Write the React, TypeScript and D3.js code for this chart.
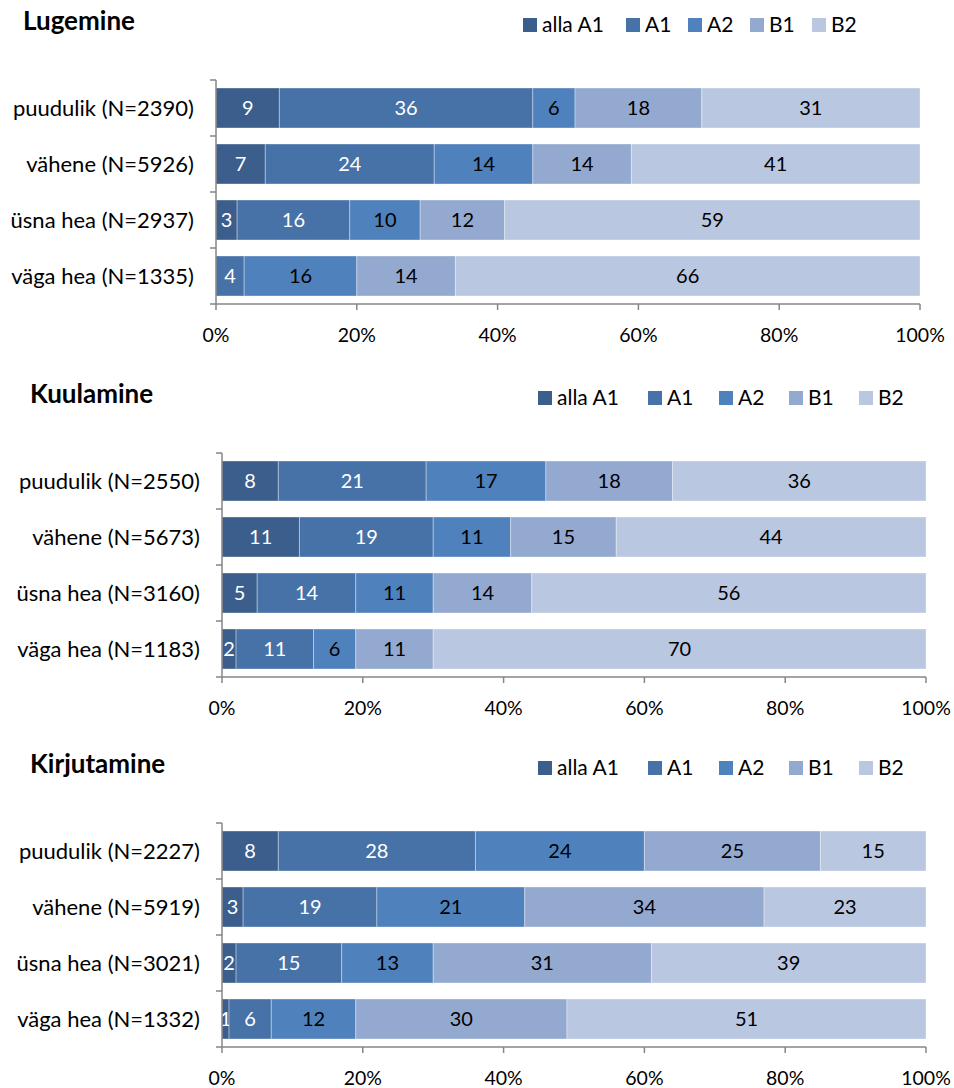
import React from 'react';
import * as d3 from 'd3';

// keeled / tasemed
const levels = ['alla A1', 'A1', 'A2', 'B1', 'B2'];
const levelColors = ['#3B5E8C', '#4672A7', '#4F81BD', '#94A9D0', '#BAC7E0'];
const levelTextColors = ['#ffffff', '#ffffff', '#000000', '#000000', '#000000'];
const ticks = [0, 20, 40, 60, 80, 100];

const lugemineCats = ['puudulik (N=2390)', 'vähene (N=5926)', 'üsna hea (N=2937)', 'väga hea (N=1335)'];
const lugemineValues = [
  [9, 36, 6, 18, 31],
  [7, 24, 14, 14, 41],
  [3, 16, 10, 12, 59],
  [0, 4, 16, 14, 66],
];

const kuulamineCats = ['puudulik (N=2550)', 'vähene (N=5673)', 'üsna hea (N=3160)', 'väga hea (N=1183)'];
const kuulamineValues = [
  [8, 21, 17, 18, 36],
  [11, 19, 11, 15, 44],
  [5, 14, 11, 14, 56],
  [2, 11, 6, 11, 70],
];

const kirjutamineCats = ['puudulik (N=2227)', 'vähene (N=5919)', 'üsna hea (N=3021)', 'väga hea (N=1332)'];
const kirjutamineValues = [
  [8, 28, 24, 25, 15],
  [3, 19, 21, 34, 23],
  [2, 15, 13, 31, 39],
  [1, 6, 12, 30, 51],
];

const FONT = 'Lato, "Open Sans", sans-serif';
const AXIS = '#868686';

function Panel(props) {
  const { title, cats, values, top, x0, x1, titleX, legendX } = props;
  const plotTop = top + 58;
  const plotBottom = plotTop + 224;
  const x = d3.scaleLinear().domain([0, 100]).range([x0, x1]);
  const y = d3.scaleBand().domain(cats).range([plotTop, plotBottom]).paddingInner(0.286).paddingOuter(0.143);
  const stack = d3.stack().keys(levels.map((_, i) => String(i)))(
    values.map((row) => Object.fromEntries(row.map((v, i) => [String(i), v])))
  );
  const bandEdges = cats.map((c) => y(c) - (y.step() - y.bandwidth()) / 2).concat([plotBottom]);

  return (
    <g>
      <text x={titleX} y={top + 8} fontFamily={FONT} fontWeight="bold" fontSize={26} fill="#000">{title}</text>
      {levels.map((l, i) => (
        <g key={l} transform={`translate(${legendX[i]},${top + 3})`}>
          <rect x={0} y={-7} width={14} height={14} fill={levelColors[i]} />
          <text x={19} y={0} dy="0.35em" fontFamily={FONT} fontSize={21} fill="#000">{l}</text>
        </g>
      ))}
      {stack.map((s, si) =>
        s.map((d, ci) => {
          const w = x(d[1]) - x(d[0]);
          if (w <= 0) return null;
          return (
            <g key={`${si}-${ci}`}>
              <rect x={x(d[0])} y={y(cats[ci])} width={w} height={y.bandwidth()}
                fill={levelColors[si]} stroke="#ffffff" strokeOpacity={0.35} strokeWidth={1} />
              <text x={x(d[0]) + w / 2} y={y(cats[ci]) + y.bandwidth() / 2} dy="0.35em" textAnchor="middle"
                fontFamily={FONT} fontSize={20} fill={levelTextColors[si]}>{values[ci][si]}</text>
            </g>
          );
        })
      )}
      {cats.map((c) => (
        <text key={c} x={x0 - 22} y={y(c) + y.bandwidth() / 2} dy="0.35em" textAnchor="end"
          fontFamily={FONT} fontSize={22} fill="#000">{c}</text>
      ))}
      <line x1={x0} x2={x0} y1={plotTop} y2={plotBottom} stroke={AXIS} strokeWidth={1.5} />
      {bandEdges.map((e, i) => (
        <line key={i} x1={x0 - 6} x2={x0} y1={e} y2={e} stroke={AXIS} strokeWidth={1.5} />
      ))}
      <line x1={x0} x2={x1} y1={plotBottom} y2={plotBottom} stroke={AXIS} strokeWidth={1.5} />
      {ticks.map((t) => (
        <g key={t}>
          <line x1={x(t)} x2={x(t)} y1={plotBottom} y2={plotBottom + 6} stroke={AXIS} strokeWidth={1.5} />
          <text x={x(t)} y={plotBottom + 31} dy="0.35em" textAnchor="middle" fontFamily={FONT} fontSize={19.5} fill="#000">{t}%</text>
        </g>
      ))}
    </g>
  );
}

export default function App() {
  return (
    <svg width={954} height={1088} style={{ position: 'absolute', left: 0, top: 0, background: '#fff' }}>
      <Panel title="Lugemine" cats={lugemineCats} values={lugemineValues} top={22} x0={216} x1={920}
        titleX={23} legendX={[523, 626, 688, 750, 812]} />
      <Panel title="Kuulamine" cats={kuulamineCats} values={kuulamineValues} top={395} x0={222} x1={926}
        titleX={30} legendX={[538, 648, 719, 789, 859]} />
      <Panel title="Kirjutamine" cats={kirjutamineCats} values={kirjutamineValues} top={765} x0={222} x1={926}
        titleX={30} legendX={[538, 648, 719, 789, 859]} />
    </svg>
  );
}
